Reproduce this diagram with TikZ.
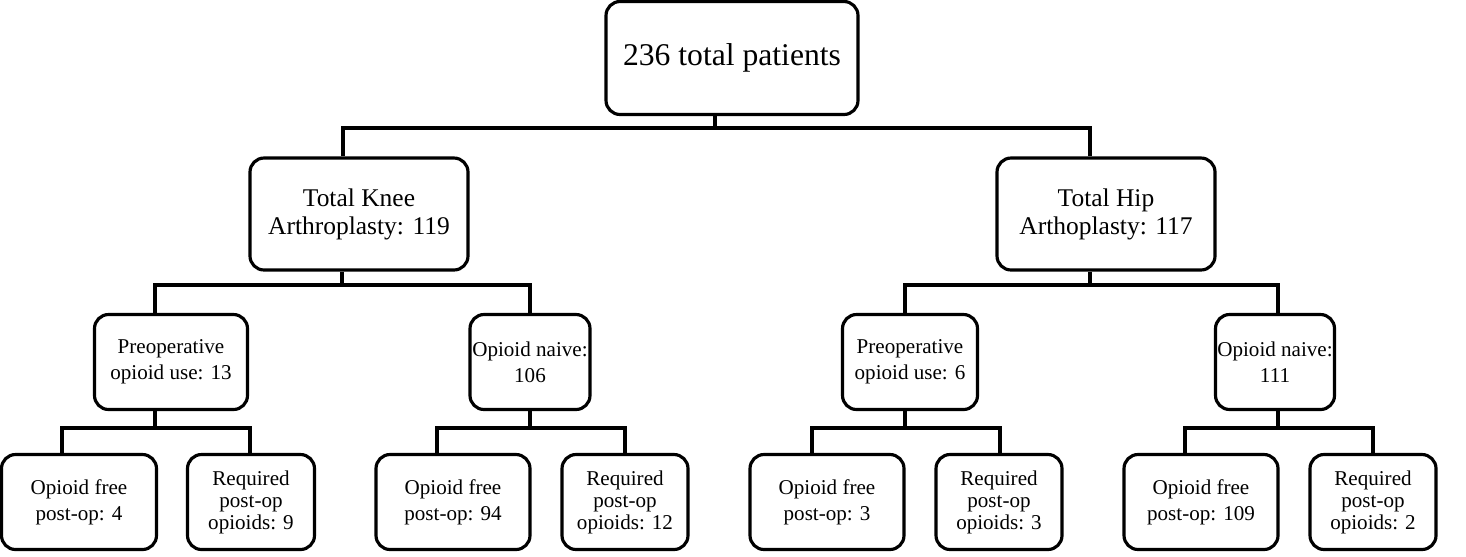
\documentclass[tikz,border=0pt]{standalone}
\usepackage{fontspec}
\setmainfont{Liberation Serif}
\begin{document}
\begin{tikzpicture}[x=0.02cm,y=-0.02cm,
 bx/.style={draw=black,line width=1.8pt,rounded corners=8pt,align=center,inner sep=0pt},
 ln/.style={line width=1.8pt}]
\useasboundingbox (0,0) rectangle (1466,556);
\newcommand{\bxat}[6]{\node[bx,minimum width=#3*0.02cm,minimum height=#4*0.02cm,font=#6] (#1) at (#2) {#5};}
\bxat{top}{732,58}{252}{113}{236 total patients}{\fontsize{18}{22}\selectfont}
\bxat{tka}{359,214}{218}{112}{Total Knee\\Arthroplasty: 119}{\fontsize{14.5}{16}\selectfont}
\bxat{tha}{1106,214}{218}{112}{Total Hip\\Arthoplasty: 117}{\fontsize{14.5}{16}\selectfont}
\bxat{a}{171,362}{153}{95}{Preoperative\\opioid use: 13}{\fontsize{12}{15}\selectfont}
\bxat{b}{530,362}{120}{95}{Opioid naive:\\106}{\fontsize{12}{15}\selectfont}
\bxat{c}{910,362}{135}{95}{Preoperative\\opioid use: 6}{\fontsize{12}{15}\selectfont}
\bxat{d}{1275,362}{119}{95}{Opioid naive:\\111}{\fontsize{12}{15}\selectfont}
\bxat{a1}{79,502}{155}{95}{Opioid free\\post-op: 4}{\fontsize{12}{15}\selectfont}
\bxat{a2}{251,502}{127}{95}{Required\\post-op\\opioids: 9}{\fontsize{12}{12.5}\selectfont}
\bxat{b1}{453,502}{154}{95}{Opioid free\\post-op: 94}{\fontsize{12}{15}\selectfont}
\bxat{b2}{625,502}{126}{95}{Required\\post-op\\opioids: 12}{\fontsize{12}{12.5}\selectfont}
\bxat{c1}{827,502}{154}{95}{Opioid free\\post-op: 3}{\fontsize{12}{15}\selectfont}
\bxat{c2}{999,502}{126}{95}{Required\\post-op\\opioids: 3}{\fontsize{12}{12.5}\selectfont}
\bxat{d1}{1201,502}{154}{95}{Opioid free\\post-op: 109}{\fontsize{12}{15}\selectfont}
\bxat{d2}{1373,502}{126}{95}{Required\\post-op\\opioids: 2}{\fontsize{12}{12.5}\selectfont}
% connectors
\coordinate (t0) at (715,128);
\draw[ln] (top.south -| t0) -- (t0);
\draw[ln] (tka.north -| 343,0) -- (343,128) -- (1090,128) -- (tha.north -| 1090,0);
\draw[ln] (tka.south -| 342,0) -- (342,285);
\draw[ln] (a.north -| 155,0) -- (155,285) -- (530,285) -- (b.north -| 530,0);
\draw[ln] (tha.south -| 1090,0) -- (1090,285);
\draw[ln] (c.north -| 905,0) -- (905,285) -- (1278,285) -- (d.north -| 1278,0);
\foreach \p/\l/\r/\xm in {a/a1/a2/155, b/b1/b2/530, c/c1/c2/905, d/d1/d2/1278}{
  \pgfmathsetmacro{\xl}{\xm-93}
  \pgfmathsetmacro{\xr}{\xm+95}
  \draw[ln] (\p.south -| \xm,0) -- (\xm,428);
  \draw[ln] (\l.north -| \xl,0) -- (\xl,428) -- (\xr,428) -- (\r.north -| \xr,0);
}
\end{tikzpicture}
\end{document}
